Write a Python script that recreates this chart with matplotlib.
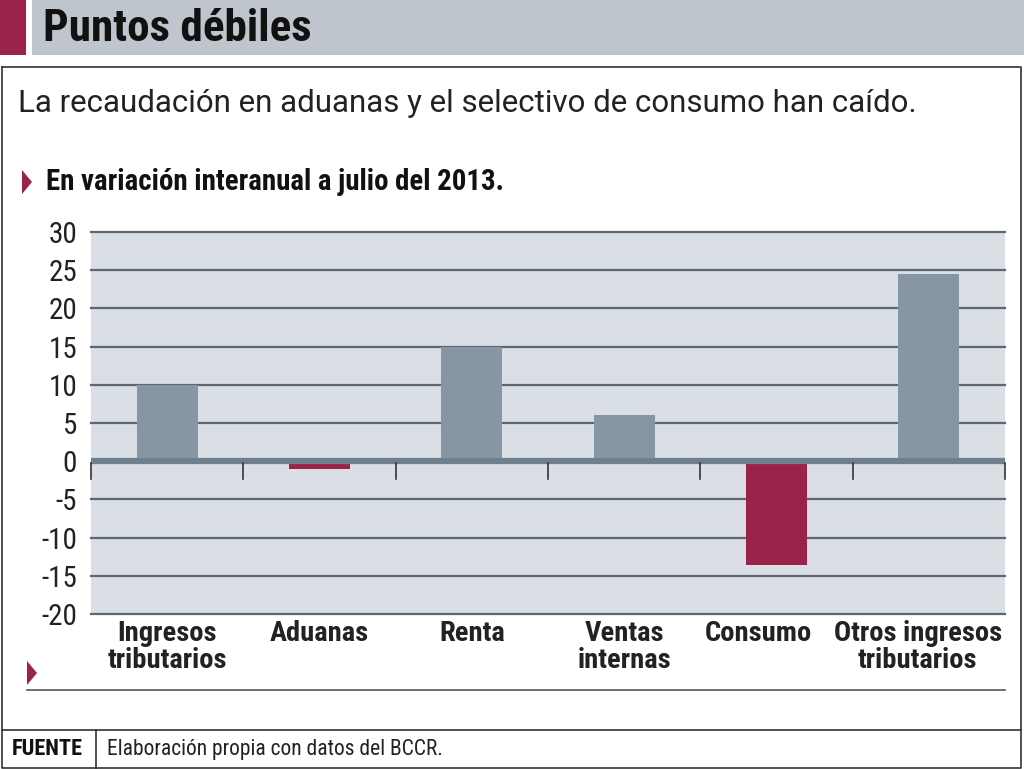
import matplotlib
matplotlib.use('Agg')
import matplotlib.pyplot as plt
import matplotlib.transforms as mtransforms
import numpy as np
from matplotlib.patches import Rectangle, Polygon
from matplotlib.lines import Line2D

# data
categories = ['Ingresos\ntributarios', 'Aduanas', 'Renta', 'Ventas\ninternas', 'Consumo', 'Otros ingresos\ntributarios']
values = [10.0, -1.0, 15.0, 6.0, -13.6, 24.5]
yticks = [30, 25, 20, 15, 10, 5, 0, -5, -10, -15, -20]

title = 'Puntos débiles'
subtitle = 'La recaudación en aduanas y el selectivo de consumo han caído.'
note = 'En variación interanual a julio del 2013.'
source = 'Elaboración propia con datos del BCCR.'

W, H = 1024, 769
GREY = '#8796a5'
CRIMSON = '#9b2349'
BG = '#dadee5'
GRID = '#5d6873'
ZERO = '#6e7f8e'
NARROW = ['DejaVu Sans Condensed', 'Liberation Sans Narrow', 'Roboto Condensed', 'Roboto', 'DejaVu Sans']
REG = ['Roboto', 'DejaVu Sans']

fig = plt.figure(figsize=(W / 100, H / 100), dpi=100)

def fx(x):
    return x / W

def fy(y):
    return 1 - y / H

def rect(x0, y0, x1, y1, **kw):
    fig.patches.append(Rectangle((fx(x0), fy(y1)), fx(x1 - x0), (y1 - y0) / H,
                                 transform=fig.transFigure, **kw))

def line(xs, ys, **kw):
    fig.lines.append(Line2D([fx(x) for x in xs], [fy(y) for y in ys],
                            transform=fig.transFigure, **kw))

def tri(x0, y0, x1, y1):
    ym = (y0 + y1) / 2
    fig.patches.append(Polygon([(fx(x0), fy(y0)), (fx(x1), fy(ym)), (fx(x0), fy(y1))],
                               closed=True, transform=fig.transFigure, color=CRIMSON, lw=0))

# header
rect(0, 0, 26, 55, color=CRIMSON, lw=0)
rect(32, 0, W, 55, color='#bfc5cc', lw=0)
fig.text(fx(43), fy(29), title, family=NARROW, stretch='condensed', weight='bold', fontsize=32.5,
         va='center', ha='left', color='#111111')

# frame
line([2, 1021, 1021, 2, 2], [67, 67, 768, 768, 67], color='#333333', lw=1.2)
line([2, 1021], [730, 730], color='#333333', lw=1.2)
line([96, 96], [730, 768], color='#333333', lw=1.2)

fig.text(fx(18), fy(103), subtitle, family=REG, fontsize=22.5, va='center', ha='left', color='#222222')
tri(22, 170, 32, 194)
fig.text(fx(46), fy(182), note, family=NARROW, stretch='condensed', weight='bold', fontsize=20.8,
         va='center', ha='left', color='#111111')

# bottom marker and rule
tri(27, 661, 37, 685)
line([27, 1005], [690, 690], color='#555555', lw=1.2)

fig.text(fx(12), fy(749), 'FUENTE', family=NARROW, stretch='condensed', weight='bold', fontsize=16,
         va='center', ha='left', color='#111111')
fig.text(fx(107), fy(749), source, family=NARROW, stretch='condensed', fontsize=15.5,
         va='center', ha='left', color='#222222')

# chart
ax = fig.add_axes([fx(91), fy(614), fx(1005 - 91), (614 - 232) / H])
ax.set_facecolor(BG)
x = np.arange(len(categories))
colors = [GREY if v >= 0 else CRIMSON for v in values]
ax.bar(x, values, width=0.4, color=colors, zorder=3)
ax.set_xlim(-0.5, len(categories) - 0.5)
ax.set_ylim(-20, 30)
for t in yticks:
    if t != 0:
        ax.axhline(t, color=GRID, lw=1.6, zorder=2, clip_on=False)
ax.axhline(0, color=ZERO, lw=4.5, zorder=4)
# category boundary ticks below the zero line
for b in np.arange(-0.5, len(categories), 1.0):
    ax.plot([b, b], [-0.3, -2.3], color='#333333', lw=1.2, zorder=4, clip_on=False)

ax.set_yticks(yticks)
ax.set_yticklabels([str(t) for t in yticks], family=NARROW, stretch='condensed', fontsize=21, color='#222222')
ax.tick_params(axis='y', length=0, pad=10)
ax.set_xticks(x)
ax.set_xticklabels(categories, family=NARROW, stretch='condensed', weight='bold', fontsize=20.5,
                   color='#222222', linespacing=1.0)
ax.tick_params(axis='x', length=0, pad=4)
# last two labels sit a bit left of their bars in the original
shifts = [0, 0, 0, 0, -18, -11]
for lab, dx in zip(ax.get_xticklabels(), shifts):
    if dx:
        lab.set_transform(lab.get_transform() + mtransforms.ScaledTranslation(dx / 100, 0, fig.dpi_scale_trans))
for s in ax.spines.values():
    s.set_visible(False)

fig.savefig('out.png', dpi=100)
